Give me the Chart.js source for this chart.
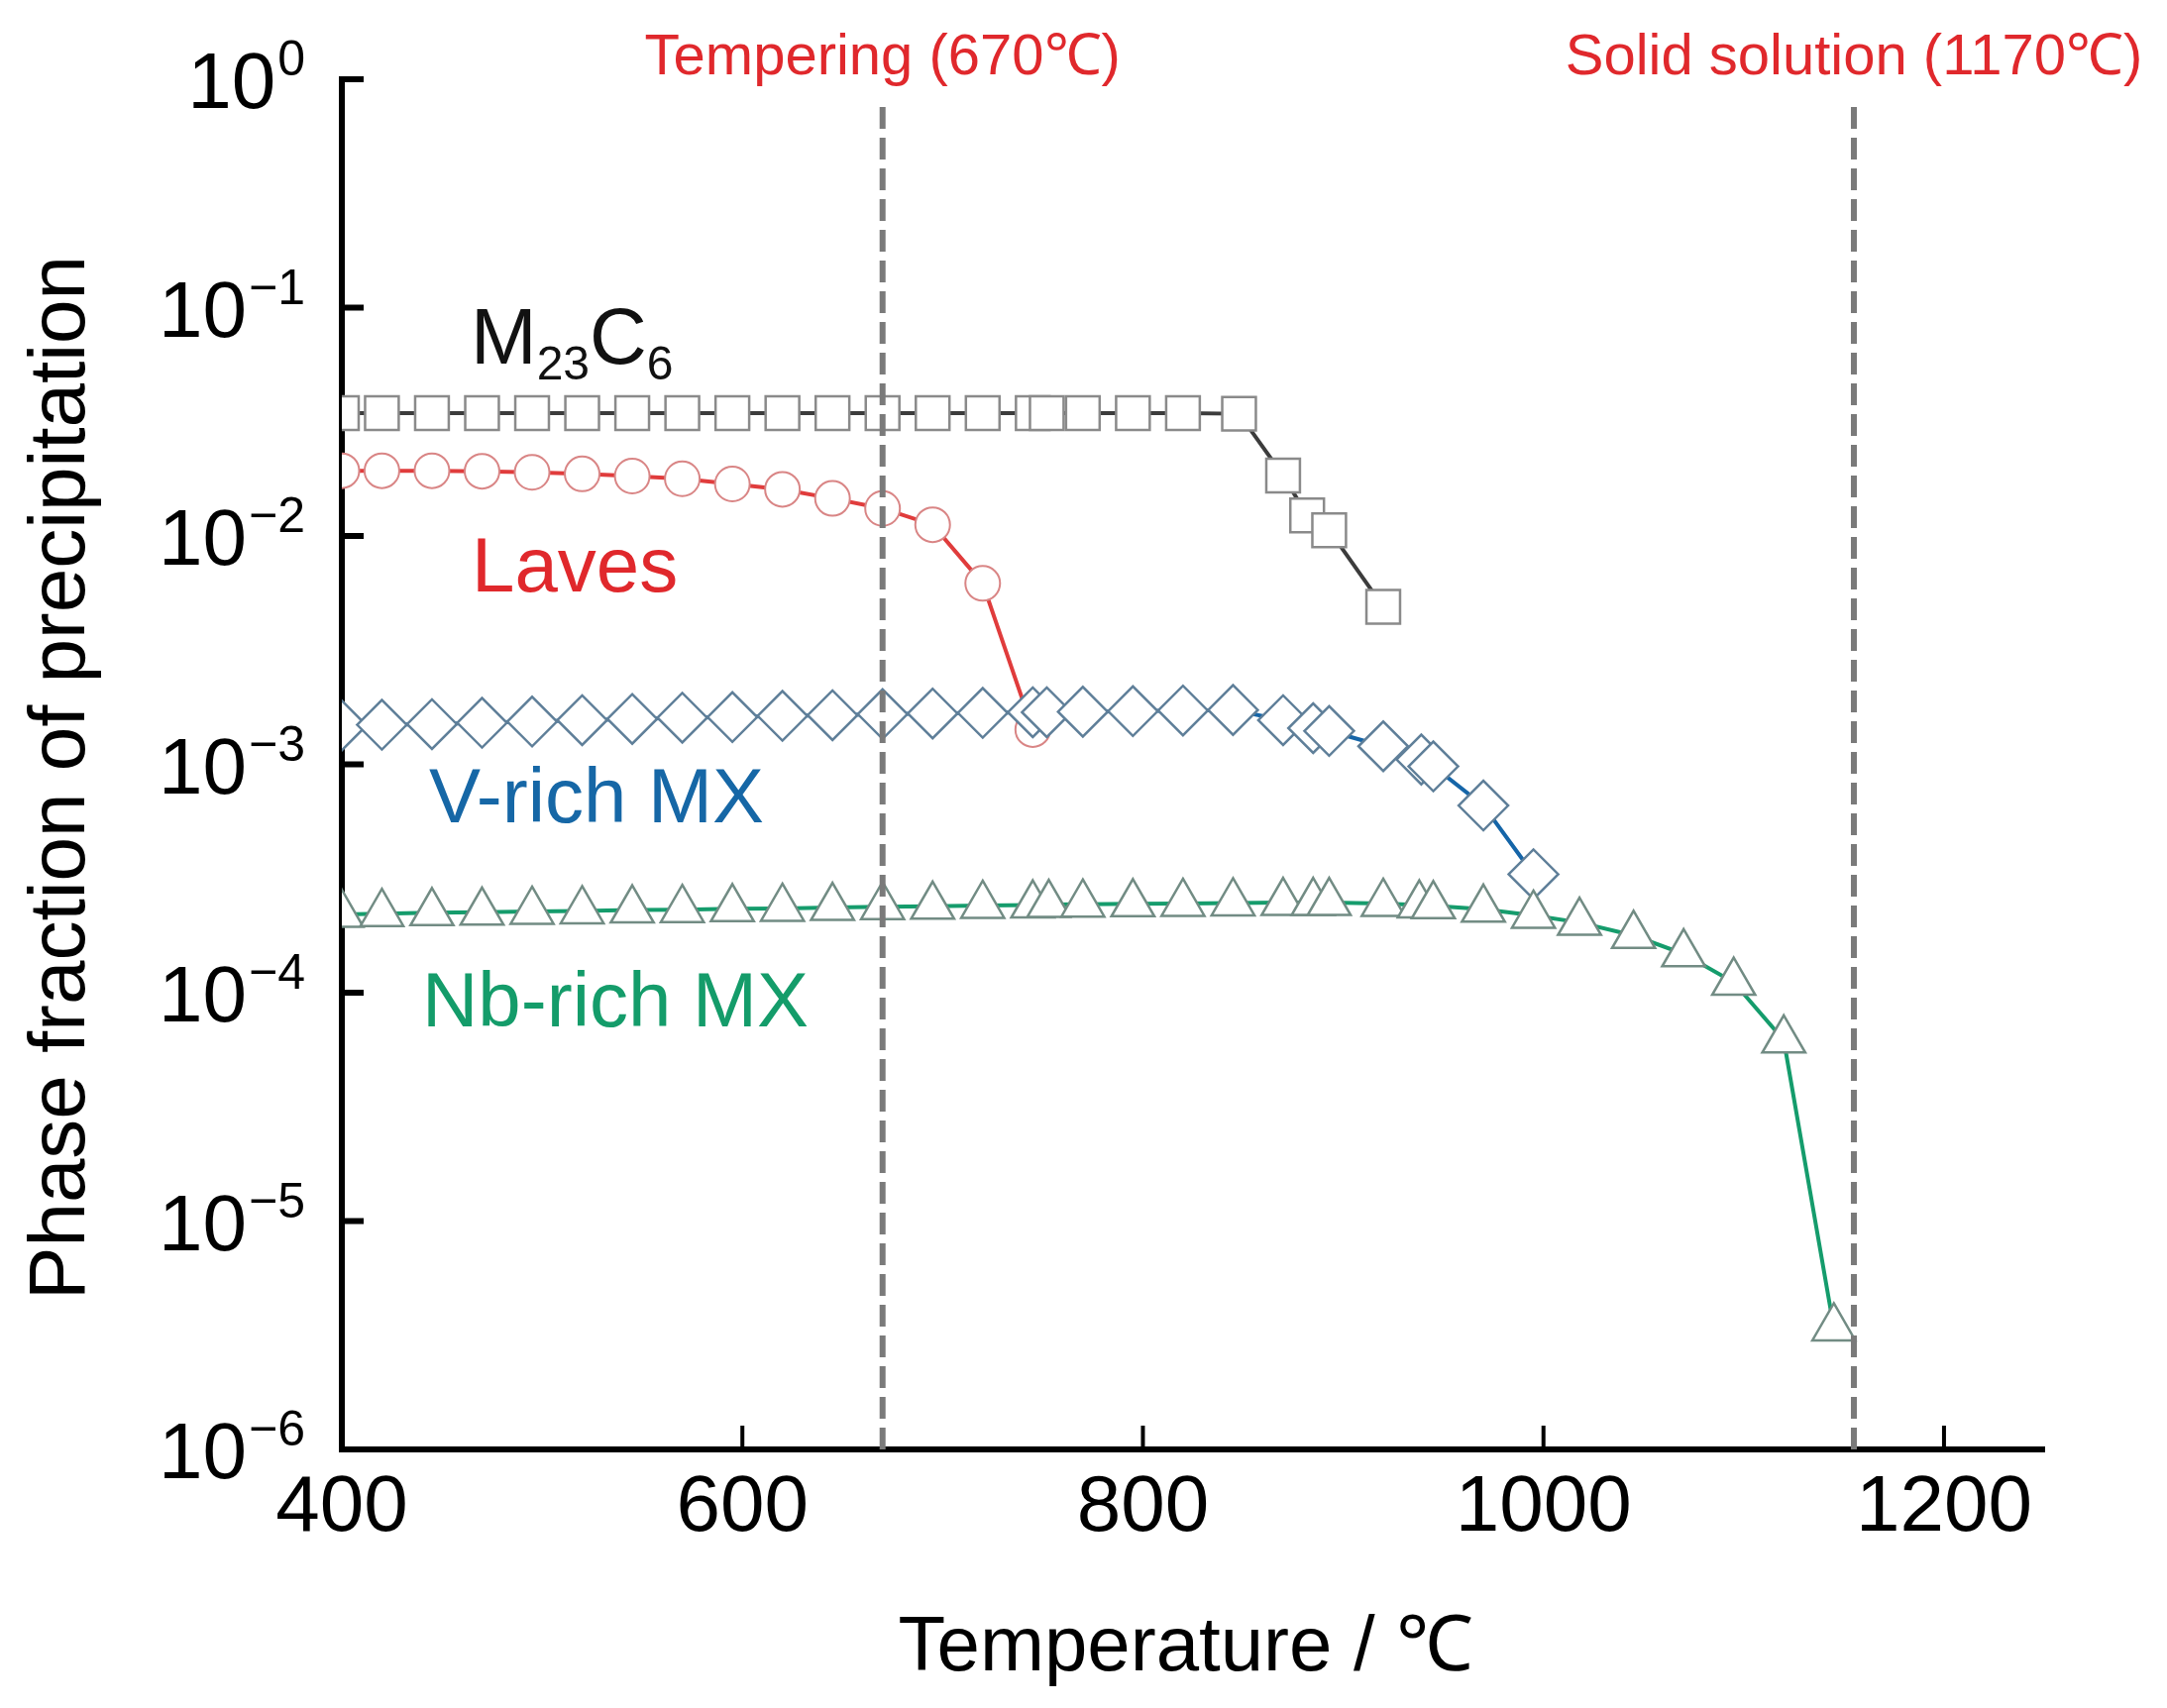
<!DOCTYPE html>
<html>
<head>
<meta charset="utf-8">
<title>Phase fraction of precipitation</title>
<script src="https://cdn.jsdelivr.net/npm/chart.js@4.4.0/dist/chart.umd.min.js"></script>
<style>
    html, body { margin: 0; padding: 0; background: #ffffff; }
    #chartWrap { width: 2187px; height: 1724px; }
    canvas { display: block; background: #ffffff; }
</style>
</head>
<body>
<div id="chartWrap">
    <canvas id="precipChart" width="2187" height="1724"></canvas>
</div>
<script>
// Temperatures (°C) and phase fractions
const m23Temp = [400, 420, 445, 470, 495, 520, 545, 570, 595, 620, 645, 670, 695, 720, 745, 752, 770, 795, 820, 848, 870, 882, 893, 920];
const m23Frac = [0.0345, 0.0345, 0.0345, 0.0345, 0.0345, 0.0345, 0.0345, 0.0345, 0.0345, 0.0345, 0.0345, 0.0345, 0.0345, 0.0345, 0.0345, 0.0345, 0.0345, 0.0345, 0.0345, 0.0343, 0.0184, 0.0123, 0.0106, 0.0049];

const lavesTemp = [400, 420, 445, 470, 495, 520, 545, 570, 595, 620, 645, 670, 695, 720, 745];
const lavesFrac = [0.0193, 0.0193, 0.0193, 0.0192, 0.0190, 0.0187, 0.0183, 0.0178, 0.0169, 0.0160, 0.0146, 0.0132, 0.0112, 0.0062, 0.00142];

const vmxTemp = [400, 420, 445, 470, 495, 520, 545, 570, 595, 620, 645, 670, 695, 720, 745, 752, 770, 795, 820, 845, 870, 885, 893, 920, 939, 945, 970, 995];
const vmxFrac = [1.48e-3, 1.49e-3, 1.50e-3, 1.52e-3, 1.54e-3, 1.56e-3, 1.58e-3, 1.60e-3, 1.61e-3, 1.63e-3, 1.64e-3, 1.66e-3, 1.67e-3, 1.68e-3, 1.69e-3, 1.69e-3, 1.70e-3, 1.71e-3, 1.72e-3, 1.73e-3, 1.56e-3, 1.44e-3, 1.40e-3, 1.20e-3, 1.05e-3, 0.98e-3, 0.66e-3, 0.33e-3];

const nbmxTemp = [400, 420, 445, 470, 495, 520, 545, 570, 595, 620, 645, 670, 695, 720, 745, 753, 770, 795, 820, 845, 870, 885, 893, 920, 938, 945, 970, 995, 1018, 1045, 1070, 1095, 1120, 1145];
const nbmxFrac = [2.20e-4, 2.22e-4, 2.24e-4, 2.25e-4, 2.27e-4, 2.28e-4, 2.30e-4, 2.31e-4, 2.33e-4, 2.34e-4, 2.36e-4, 2.38e-4, 2.39e-4, 2.41e-4, 2.42e-4, 2.43e-4, 2.44e-4, 2.45e-4, 2.46e-4, 2.47e-4, 2.48e-4, 2.48e-4, 2.48e-4, 2.46e-4, 2.42e-4, 2.40e-4, 2.32e-4, 2.18e-4, 2.03e-4, 1.78e-4, 1.48e-4, 1.11e-4, 6.2e-5, 3.4e-6];

// Axis ticks
const xTickValues = [400, 600, 800, 1000, 1200];
const yTickExponents = [0, -1, -2, -3, -4, -5, -6];

// Vertical reference lines (drawn where they sit in the figure) and their captions
const guideTemps = [670, 1155];
const guideLabels = ['Tempering (670\u2103)', 'Solid solution (1170\u2103)'];

const FONT = '"Liberation Sans", Arial, Helvetica, sans-serif';

function toPoints(xs, ys) {
    return xs.map((x, i) => ({ x: x, y: ys[i] }));
}

/**
 * Draws the decorations the figure has around the plot:
 * inward ticks, 10^n labels, axis titles, guide lines and series names
 */
const figureDecor = {
    id: 'figureDecor',
    afterDatasetsDraw(chart) {
        const ctx = chart.ctx;
        const area = chart.chartArea;
        const xs = chart.scales.x;
        const ys = chart.scales.y;

        ctx.save();

        // dashed guide lines
        ctx.strokeStyle = '#7a7a7a';
        ctx.lineWidth = 6;
        ctx.setLineDash([22, 9]);
        guideTemps.forEach(t => {
            const px = xs.getPixelForValue(t);
            ctx.beginPath();
            ctx.moveTo(px, area.top + 28);
            ctx.lineTo(px, area.bottom);
            ctx.stroke();
        });
        ctx.setLineDash([]);

        // guide captions
        ctx.fillStyle = '#e0282c';
        ctx.font = '58px ' + FONT;
        ctx.textAlign = 'center';
        ctx.textBaseline = 'alphabetic';
        guideTemps.forEach((t, i) => {
            let px = xs.getPixelForValue(t);
            const w = ctx.measureText(guideLabels[i]).width;
            if (px + w / 2 > chart.width - 14) px = chart.width - 14 - w / 2;
            ctx.fillText(guideLabels[i], px, area.top - 5);
        });

        // inward tick marks
        ctx.strokeStyle = '#000000';
        ctx.lineWidth = 6;
        yTickExponents.forEach(e => {
            const py = ys.getPixelForValue(Math.pow(10, e));
            ctx.beginPath();
            ctx.moveTo(area.left, py);
            ctx.lineTo(area.left + 22, py);
            ctx.stroke();
        });
        ctx.lineWidth = 4;
        xTickValues.forEach(v => {
            const px = xs.getPixelForValue(v);
            ctx.beginPath();
            ctx.moveTo(px, area.bottom);
            ctx.lineTo(px, area.bottom - 24);
            ctx.stroke();
        });

        // x tick labels
        ctx.fillStyle = '#000000';
        ctx.font = '80px ' + FONT;
        ctx.textAlign = 'center';
        xTickValues.forEach(v => {
            ctx.fillText(String(v), xs.getPixelForValue(v), area.bottom + 82);
        });

        // y tick labels as 10 with a raised exponent
        ctx.textAlign = 'right';
        yTickExponents.forEach(e => {
            const py = ys.getPixelForValue(Math.pow(10, e));
            const expText = e === 0 ? '0' : '\u2212' + Math.abs(e);
            const right = area.left - 37;
            ctx.font = '50px ' + FONT;
            const ew = ctx.measureText(expText).width;
            ctx.fillText(expText, right, py - 4);
            ctx.font = '80px ' + FONT;
            ctx.fillText('10', right - ew - 2, py + 29);
        });

        // axis titles
        ctx.font = '78px ' + FONT;
        ctx.textAlign = 'center';
        ctx.fillText('Temperature / \u2103', 1197, area.bottom + 223);

        ctx.save();
        ctx.translate(63, 785);
        ctx.rotate(-Math.PI / 2);
        ctx.font = '80px ' + FONT;
        ctx.textBaseline = 'middle';
        ctx.fillText('Phase fraction of precipitation', 0, 0);
        ctx.restore();

        // series names
        ctx.textAlign = 'left';
        let lx = area.left + 130;
        const by = 367;
        ctx.fillStyle = '#111111';
        ctx.font = '80px ' + FONT;
        ctx.fillText('M', lx, by);
        lx += ctx.measureText('M').width;
        ctx.font = '48px ' + FONT;
        ctx.fillText('23', lx, by + 16);
        lx += ctx.measureText('23').width;
        ctx.font = '80px ' + FONT;
        ctx.fillText('C', lx, by);
        lx += ctx.measureText('C').width;
        ctx.font = '48px ' + FONT;
        ctx.fillText('6', lx, by + 16);

        ctx.font = '78px ' + FONT;
        ctx.fillStyle = '#e0282c';
        ctx.fillText('Laves', area.left + 131, 597);
        ctx.fillStyle = '#1667a6';
        ctx.fillText('V-rich MX', area.left + 88, 830);
        ctx.fillStyle = '#149c6a';
        ctx.fillText('Nb-rich MX', area.left + 81, 1036);

        ctx.restore();
    }
};

document.addEventListener('DOMContentLoaded', function () {
    const ctx = document.getElementById('precipChart');

    new Chart(ctx, {
        type: 'line',
        data: {
            datasets: [
                {
                    label: 'M23C6',
                    data: toPoints(m23Temp, m23Frac),
                    borderColor: '#3c3c3c',
                    borderWidth: 4,
                    pointStyle: 'rect',
                    pointRadius: 24,
                    pointBorderColor: '#8a8a8a',
                    pointBorderWidth: 2.5,
                    pointBackgroundColor: '#ffffff',
                    order: 4
                },
                {
                    label: 'Laves',
                    data: toPoints(lavesTemp, lavesFrac),
                    borderColor: '#e03c3c',
                    borderWidth: 4,
                    pointStyle: 'circle',
                    pointRadius: 17.5,
                    pointBorderColor: '#d98585',
                    pointBorderWidth: 2,
                    pointBackgroundColor: '#ffffff',
                    order: 3
                },
                {
                    label: 'V-rich MX',
                    data: toPoints(vmxTemp, vmxFrac),
                    borderColor: '#1565a8',
                    borderWidth: 4,
                    pointStyle: 'rectRot',
                    pointRadius: 25,
                    pointBorderColor: '#5f7f99',
                    pointBorderWidth: 2.5,
                    pointBackgroundColor: '#ffffff',
                    order: 2
                },
                {
                    label: 'Nb-rich MX',
                    data: toPoints(nbmxTemp, nbmxFrac),
                    borderColor: '#159c6c',
                    borderWidth: 4,
                    pointStyle: 'triangle',
                    pointRadius: 25,
                    pointBorderColor: '#728c84',
                    pointBorderWidth: 2.5,
                    pointBackgroundColor: '#ffffff',
                    order: 1
                }
            ]
        },
        options: {
            responsive: false,
            animation: false,
            devicePixelRatio: 1,
            layout: {
                padding: { left: 345, right: 124, top: 80, bottom: 261 }
            },
            plugins: {
                legend: { display: false },
                tooltip: { enabled: false }
            },
            datasets: {
                line: { clip: 0, tension: 0 }
            },
            scales: {
                x: {
                    type: 'linear',
                    min: 400,
                    max: 1250,
                    ticks: { display: false, stepSize: 200 },
                    grid: { display: false, drawTicks: false, tickLength: 0 },
                    border: { display: true, color: '#000000', width: 6 }
                },
                y: {
                    type: 'logarithmic',
                    min: 1e-6,
                    max: 1,
                    ticks: { display: false },
                    grid: { display: false, drawTicks: false, tickLength: 0 },
                    border: { display: true, color: '#000000', width: 6 }
                }
            }
        },
        plugins: [figureDecor]
    });
});
</script>
</body>
</html>
